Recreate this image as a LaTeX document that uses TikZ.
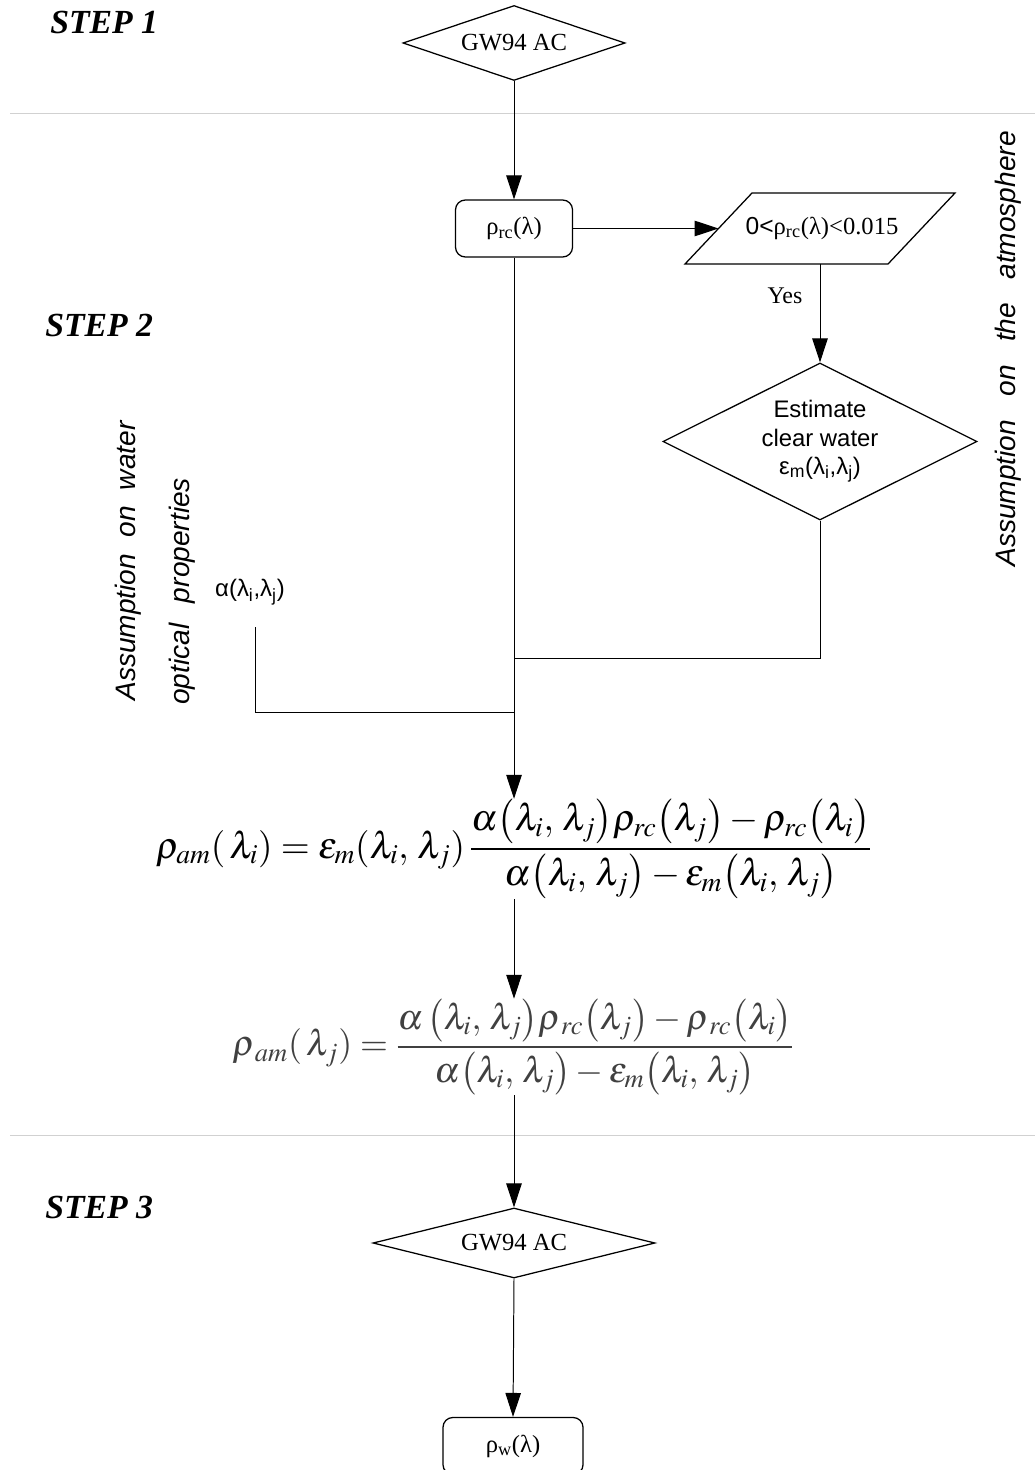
\documentclass[tikz,border=0pt]{standalone}
\usepackage{mathptmx}
\usepackage[no-math]{fontspec}
\setmainfont{Liberation Serif}
\newfontfamily\arialfont{Liberation Sans}
\usetikzlibrary{shapes.geometric,arrows.meta,positioning}

\begin{document}
\begin{tikzpicture}[x=0.025cm,y=-0.025cm,
    decision/.style={diamond,draw,line width=0.9pt,inner sep=0pt,aspect=3,font=\fontsize{17.5}{21}\selectfont},
    roundbox/.style={draw,rounded corners=7pt,line width=0.9pt,minimum height=1.425cm,inner sep=0pt,font=\fontsize{17.5}{21}\selectfont},
    sanslabel/.style={font=\arialfont\fontsize{17}{20}\selectfont},
    steplabel/.style={font=\fontsize{24}{28}\selectfont\bfseries\itshape,anchor=west,inner sep=0pt},
    assumption/.style={font=\arialfont\itshape\fontsize{20}{24}\selectfont,rotate=90,anchor=west,inner sep=0pt},
    flow/.style={line width=0.7pt},
    arr/.style={flow,-{Triangle[length=17pt,width=11pt]}},
    divider/.style={black!18,line width=0.7pt}]

    \useasboundingbox (0,0) rectangle (1035,1470);

    % step separators
    \draw [divider] (10,113) -- (1035,113);
    \draw [divider] (10,1135) -- (1035,1135);

    \node [steplabel] (step1) at (50,22) {STEP 1};
    \node [steplabel] (step2) at (45,325) {STEP 2};
    \node [steplabel] (step3) at (45,1207) {STEP 3};

    % step 1
    \node [decision,minimum width=5.55cm,minimum height=1.875cm] (gwtop) at (514,43) {GW94 AC};

    % step 2
    \node [roundbox,minimum width=2.925cm] (rcbox) at (514,228.5) {ρ\textsubscript{rc}(λ)};

    \draw [line width=0.9pt] (752,193) -- (955,193) -- (888,264) -- (685,264) -- cycle;
    \node [font=\fontsize{17.5}{21}\selectfont] (cond) at (822,228) {{\arialfont 0<}ρ\textsubscript{rc}(λ)<0.015};
    \coordinate (condin) at (718.5,228.5);
    \coordinate (condout) at (820,264);
    \node [font=\fontsize{17}{20}\selectfont] (yes) at (785,296) {Yes};

    \node [decision,aspect=2,sanslabel,align=center,minimum width=7.85cm,minimum height=3.925cm] (est) at (820,441.5)
        {Estimate\\clear water\\ε\textsubscript{m}(λ\textsubscript{i},λ\textsubscript{j})};

    \node [sanslabel] (alpha) at (250,592) {α(λ\textsubscript{i},λ\textsubscript{j})};
    \coordinate (alphaend) at (255,627);
    \coordinate (jright) at (514,658);
    \coordinate (jleft) at (514,712);

    \node [assumption] (aswater) at (128,701) {Assumption\hspace{6pt} on\hspace{6pt} water};
    \node [assumption] (asoptic) at (182,705) {optical\hspace{9pt} properties};
    \node [assumption] (asatmo) at (1008,567) {Assumption\hspace{11pt} on\hspace{11pt} the\hspace{11pt} atmosphere};

    \node [inner sep=0pt,font=\fontsize{26.5}{31}\selectfont] (fmain) at (514,849)
        {$\displaystyle\rho_{am}(\,\lambda_i)=\varepsilon_m(\lambda_i,\,\lambda_j)\,\frac{\alpha\bigl(\lambda_i,\,\lambda_j\bigr)\rho_{rc}\bigl(\lambda_j\bigr)-\rho_{rc}\bigl(\lambda_i\bigr)}{\alpha\bigl(\lambda_i,\,\lambda_j\bigr)-\varepsilon_m\bigl(\lambda_i,\,\lambda_j\bigr)}$};
    \node [inner sep=0pt,black!75,font=\fontsize{25.5}{30}\selectfont] (fsec) at (513,1047)
        {$\displaystyle\rho_{\,am}(\,\lambda_j)=\frac{\alpha\,\bigl(\lambda_i,\,\lambda_j\bigr)\rho_{\,rc}\bigl(\lambda_j\bigr)-\rho_{\,rc}\bigl(\lambda_i\bigr)}{\alpha\bigl(\lambda_i,\,\lambda_j\bigr)-\varepsilon_m\bigl(\lambda_i,\,\lambda_j\bigr)}$};

    % step 3
    \node [decision,minimum width=7.05cm,minimum height=1.75cm] (gwbot) at (514,1243) {GW94 AC};
    \node [roundbox,minimum width=3.5cm] (wbox) at (513,1446) {ρ\textsubscript{w}(λ)};

    % connectors
    \draw [arr] (gwtop.south) -- (rcbox.north);
    \draw [arr] (rcbox.east) -- (condin);
    \draw [arr] (condout) -- (est.north);
    \draw [flow] (est.south) |- (jright);
    \draw [flow] (alphaend) |- (jleft);
    \draw [arr] (rcbox.south) -- (rcbox.south |- fmain.north);
    \draw [arr] (fmain.south -| rcbox.south) -- (fsec.north -| rcbox.south);
    \draw [arr] (fsec.south -| rcbox.south) -- (gwbot.north);
    \draw [arr] (gwbot.south) -- (wbox.north);

\end{tikzpicture}
\end{document}
